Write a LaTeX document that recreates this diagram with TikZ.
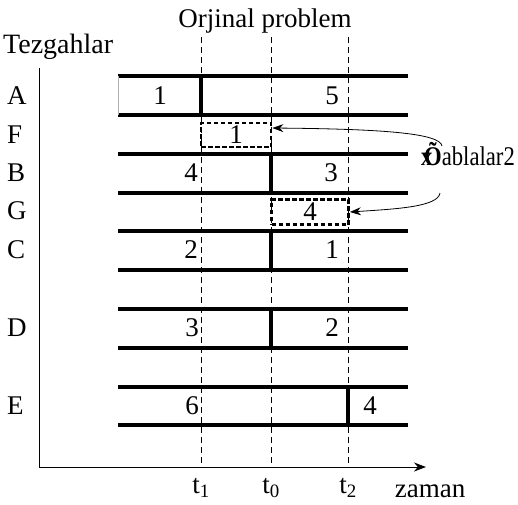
\documentclass[tikz,border=0pt]{standalone}
\usepackage{fontspec}
\setmainfont{Liberation Serif}
\usetikzlibrary{arrows.meta,calc}
\begin{document}
\begin{tikzpicture}[x=1pt,y=-1pt,
  txt/.style={font=\fontsize{27}{31}\selectfont, inner sep=0pt},
  bar/.style={line width=3.5pt},
  divline/.style={line width=3.5pt},
  guide/.style={dash pattern=on 6pt off 4pt, line width=0.9pt},
  dbox/.style={draw, line width=2.8pt, dash pattern=on 4.5pt off 2.5pt, inner sep=0pt, font=\fontsize{27}{31}\selectfont},
  axisline/.style={line width=1pt},
  conn/.style={line width=0.8pt, -{Stealth[length=11pt,width=8pt]}}
]
\useasboundingbox (0,0) rectangle (518,504);

% title and axis labels
\node[txt, anchor=base] (title) at (265,27) {Orjinal problem};
\node[txt, font=\fontsize{28}{32}\selectfont, anchor=base west] (tez) at (3,53) {Tezgahlar};
\node[txt] (zaman) at (430,491) {zaman};
\node[txt] (t1) at (201,488) {t\textsubscript{1}};
\node[txt] (t0) at (271,488) {t\textsubscript{0}};
\node[txt] (t2) at (348,488) {t\textsubscript{2}};

% guides
\foreach \x in {201,271,348} \draw[guide] (\x,37) -- (\x,467);

% axes
\coordinate (orig) at (39,467);
\draw[axisline] (39,68) -- (orig);
\draw[axisline, -{Stealth[length=12pt,width=9pt]}] (orig) -- (426,467);

% row labels
\foreach \n/\y in {A/95.5,F/135,B/173,G/211,C/250,D/328,E/406}
  \node[txt, anchor=west] (row\n) at (7,\y) {\n};

% bars
\foreach \y in {76,115,154,193,231,270,309,348,387,425}
  \draw[bar] (118,\y) -- (408,\y);

% row A left edge
\draw[gray!60, line width=0.8pt] (118,76) -- (118,115);

% dividers
\draw[divline] (201,76) -- (201,115);
\draw[divline] (271,154) -- (271,193);
\draw[divline] (271,231) -- (271,270);
\draw[divline] (271,309) -- (271,348);
\draw[divline] (348,387) -- (348,425);

% numbers
\node[txt] (a1) at (160,95.5) {1};
\node[txt] (a5) at (332,95.5) {5};
\node[txt] (b4) at (191,173) {4};
\node[txt] (b3) at (331,173) {3};
\node[txt] (c2) at (191,250) {2};
\node[txt] (c1) at (332,250) {1};
\node[txt] (d3) at (192,328) {3};
\node[txt] (d2) at (332,328) {2};
\node[txt] (e6) at (192,406) {6};
\node[txt] (e4) at (370,406) {4};

% dashed boxes
\node[dbox, minimum width=70pt, minimum height=24pt] (fbox) at (236,135) {1};
\node[dbox, minimum width=77pt, minimum height=25pt] (gbox) at (310,212) {4};

% label
\node[txt, anchor=base west] (lbl) at (421,165) {\scalebox{0.84}[1]{\makebox[0pt][l]{\textbf{x}}\kern3.5pt\textbf{Õ}ablalar2}};

\coordinate (s1) at (442,146);
\coordinate (s2) at (440,193);
\draw[conn] (s1) .. controls (440,133) and (380,129) .. ([yshift=7pt]fbox.east);
\draw[conn] (s2) .. controls (438,207) and (395,209) .. (gbox.east);
\end{tikzpicture}
\end{document}
